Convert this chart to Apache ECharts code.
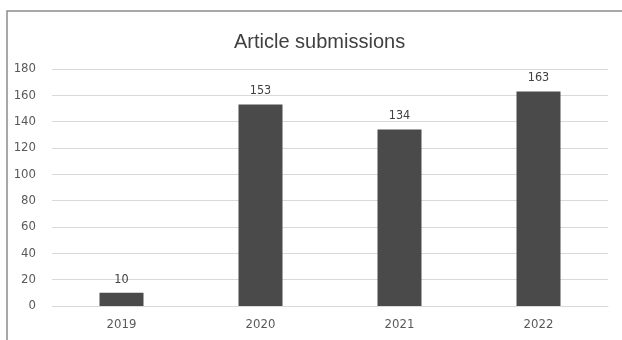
<!DOCTYPE html>
<html>
<head>
<meta charset="utf-8">
<style>
    html, body { margin: 0; padding: 0; background: #fff; }
    #main { width: 622px; height: 340px; }
</style>
<script src="https://cdn.jsdelivr.net/npm/echarts@6/dist/echarts.min.js"></script>
</head>
<body>
<div id="main"></div>
<script>
    // data
    var years = ['2019', '2020', '2021', '2022']
    var submissions = [10, 153, 134, 163]
    var yTicks = [0, 20, 40, 60, 80, 100, 120, 140, 160, 180]

    var myChart = echarts.init(document.getElementById('main'))

    myChart.setOption({
        animation: false,
        color: ['#4a4a4a'],
        title: {
            text: 'Article submissions',
            left: 229,
            top: 27,
            textStyle: {
                fontFamily: 'Liberation Sans',
                fontSize: 20,
                fontWeight: 'normal',
                color: '#404040'
            }
        },
        // frame around the chart, cut off at the right and bottom
        graphic: [
            {
                type: 'polyline',
                shape: { points: [[7, 345], [7, 11], [630, 11]] },
                style: { stroke: '#8c8c8c', lineWidth: 1.5, fill: null }
            }
        ],
        grid: {
            left: 52,
            right: 14,
            top: 69,
            bottom: 34
        },
        xAxis: {
            type: 'category',
            data: years,
            axisTick: { show: false },
            axisLine: { lineStyle: { color: '#d9d9d9' } },
            axisLabel: {
                fontFamily: 'DejaVu Sans Condensed',
                fontSize: 13,
                color: '#595959',
                margin: 12
            }
        },
        yAxis: {
            type: 'value',
            min: yTicks[0],
            max: yTicks[yTicks.length - 1],
            interval: 20,
            axisLine: { show: false },
            axisTick: { show: false },
            splitLine: { lineStyle: { color: '#d9d9d9' } },
            axisLabel: {
                fontFamily: 'DejaVu Sans Condensed',
                fontSize: 13,
                color: '#595959',
                margin: 16
            }
        },
        series: [
            {
                name: 'Article submissions',
                type: 'bar',
                barWidth: 44,
                data: submissions,
                label: {
                    show: true,
                    position: 'top',
                    distance: 7,
                    fontFamily: 'DejaVu Sans Condensed',
                    fontSize: 12.5,
                    color: '#404040'
                }
            }
        ]
    })
</script>
</body>
</html>
